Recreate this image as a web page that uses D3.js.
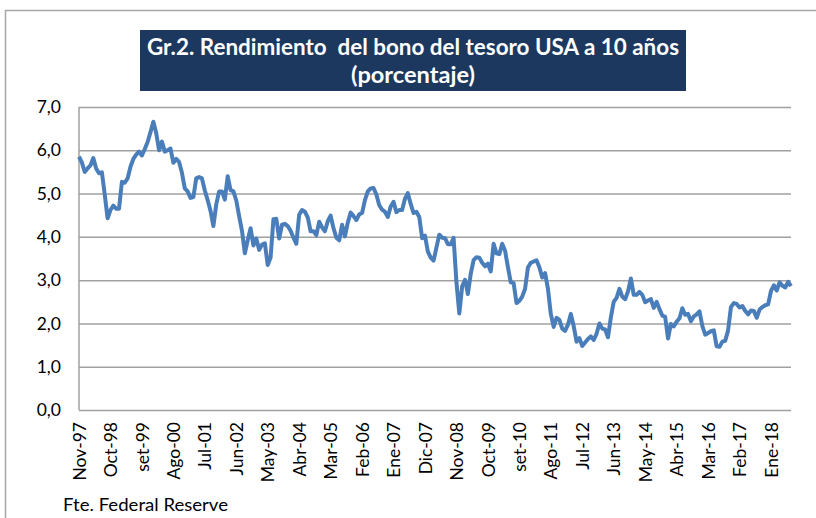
<!DOCTYPE html>
<html>
<head>
<meta charset="utf-8">
<script src="https://cdn.jsdelivr.net/npm/d3@7"></script>
<style>
  body { margin: 0; background: #fff; }
  #chart { width: 816px; height: 518px; }
  text { font-family: Lato, "Open Sans", sans-serif; }
</style>
</head>
<body>
<div id="chart"></div>
<script>
/** Data: month-end yields, Nov-97 .. Ago-18 */
const monthNames = ["Ene", "Feb", "Mar", "Abr", "May", "Jun", "Jul", "Ago", "set", "Oct", "Nov", "Dic"];
const startYear = 1997;
const startMonth = 10; // Nov

const yields = [
  5.85, 5.72,
  5.50, 5.58, 5.65, 5.82, 5.58, 5.47, 5.49, 4.98, 4.43, 4.62, 4.72, 4.65,
  4.65, 5.27, 5.25, 5.35, 5.62, 5.80, 5.90, 5.97, 5.88, 6.03, 6.19, 6.42,
  6.66, 6.40, 6.00, 6.20, 5.97, 6.00, 6.04, 5.71, 5.80, 5.73, 5.48, 5.12,
  5.05, 4.90, 4.92, 5.35, 5.38, 5.35, 5.07, 4.85, 4.60, 4.25, 4.75, 5.05,
  5.05, 4.86, 5.40, 5.08, 5.05, 4.84, 4.48, 4.14, 3.62, 3.92, 4.20, 3.80,
  3.96, 3.70, 3.82, 3.85, 3.35, 3.52, 4.41, 4.42, 3.96, 4.28, 4.30, 4.25,
  4.14, 3.98, 3.84, 4.51, 4.62, 4.58, 4.45, 4.13, 4.13, 4.04, 4.35, 4.22,
  4.13, 4.36, 4.49, 4.20, 3.98, 3.92, 4.28, 4.01, 4.33, 4.56, 4.48, 4.39,
  4.52, 4.55, 4.85, 5.05, 5.12, 5.13, 4.98, 4.73, 4.63, 4.58, 4.46, 4.70,
  4.81, 4.57, 4.62, 4.62, 4.88, 5.01, 4.76, 4.55, 4.58, 4.46, 3.97, 4.03,
  3.66, 3.52, 3.45, 3.75, 4.05, 3.98, 3.97, 3.83, 3.83, 3.98, 2.95, 2.23,
  2.86, 3.01, 2.68, 3.15, 3.46, 3.53, 3.52, 3.40, 3.32, 3.38, 3.20, 3.84,
  3.62, 3.60, 3.84, 3.68, 3.30, 2.95, 2.93, 2.47, 2.52, 2.62, 2.80, 3.29,
  3.40, 3.43, 3.46, 3.30, 3.06, 3.16, 2.80, 2.22, 1.92, 2.13, 2.08, 1.88,
  1.83, 1.97, 2.22, 1.94, 1.58, 1.66, 1.48, 1.56, 1.64, 1.70, 1.62, 1.76,
  2.00, 1.88, 1.86, 1.68, 2.14, 2.50, 2.59, 2.80, 2.62, 2.56, 2.74, 3.04,
  2.66, 2.66, 2.73, 2.66, 2.49, 2.53, 2.56, 2.36, 2.50, 2.33, 2.18, 2.15,
  1.65, 1.99, 1.93, 2.04, 2.12, 2.35, 2.20, 2.22, 2.05, 2.16, 2.21, 2.28,
  1.94, 1.74, 1.78, 1.82, 1.84, 1.47, 1.46, 1.58, 1.60, 1.84, 2.38, 2.47,
  2.45, 2.37, 2.40, 2.29, 2.21, 2.30, 2.29, 2.13, 2.32, 2.38, 2.42, 2.44,
  2.75, 2.88, 2.76, 2.95, 2.87, 2.83, 2.96, 2.86
];

const yTicks = [0, 1, 2, 3, 4, 5, 6, 7];
const labelStep = 11;

const titleLines = ["Gr.2. Rendimiento  del bono del tesoro USA a 10 años", "(porcentaje)"];
const sourceNote = "Fte. Federal Reserve";

/** Build categories */
const categories = yields.map((_, i) => {
  const m = (startMonth + i) % 12;
  const y = startYear + Math.floor((startMonth + i) / 12);
  return monthNames[m] + "-" + String(y).slice(2);
});
const data = yields.map((v, i) => ({ cat: categories[i], value: v }));

/** Graph configs */
const W = 816, H = 518;
const margin = { top: 107, right: 25, bottom: 108, left: 79 };
const width = W - margin.left - margin.right;
const height = H - margin.top - margin.bottom;

const svg = d3.select("#chart").append("svg").attr("width", W).attr("height", H);

// outer frame
svg.append("rect")
  .attr("x", 5.5).attr("y", 10.5)
  .attr("width", 900).attr("height", 600)
  .attr("fill", "none").attr("stroke", "#a6a6a6").attr("stroke-width", 1.5);

// title box
svg.append("rect")
  .attr("x", 140).attr("y", 30)
  .attr("width", 546).attr("height", 61)
  .attr("fill", "#1c385e");

svg.append("text")
  .attr("x", 413).attr("y", 55)
  .attr("text-anchor", "middle")
  .style("white-space", "pre")
  .attr("fill", "#fff").attr("font-weight", "bold").attr("font-size", 23)
  .attr("textLength", 532).attr("lengthAdjust", "spacingAndGlyphs")
  .text(titleLines[0]);
svg.append("text")
  .attr("x", 413).attr("y", 83)
  .attr("text-anchor", "middle")
  .attr("fill", "#fff").attr("font-weight", "bold").attr("font-size", 23)
  .attr("textLength", 124).attr("lengthAdjust", "spacingAndGlyphs")
  .text(titleLines[1]);

const g = svg.append("g")
  .attr("transform", `translate(${margin.left},${margin.top})`);

/** Scales */
const xScale = d3.scalePoint()
  .domain(categories)
  .range([0, width]);

const yScale = d3.scaleLinear()
  .domain([0, 7])
  .range([height, 0]);

const fmt = (d) => d3.format(".1f")(d).replace(".", ",");

/** Gridlines + y axis */
const yAxis = d3.axisLeft(yScale)
  .tickValues(yTicks)
  .tickSize(-width)
  .tickPadding(18)
  .tickFormat(fmt);

g.append("g")
  .call(yAxis)
  .call((s) => s.select(".domain").remove())
  .call((s) => s.selectAll(".tick line").attr("stroke", "#a0a0a0").attr("stroke-width", 1.5))
  .call((s) => s.selectAll(".tick text")
    .attr("font-size", 17.5).attr("fill", "#000")
    .style("font-family", "Lato, 'Open Sans', sans-serif"));

// left axis line
g.append("line")
  .attr("x1", 0).attr("x2", 0)
  .attr("y1", 0).attr("y2", height)
  .attr("stroke", "#a0a0a0").attr("stroke-width", 1.5);

/** x axis */
const xAxis = d3.axisBottom(xScale)
  .tickValues(categories.filter((_, i) => i % labelStep === 0))
  .tickSize(0)
  .tickPadding(0);

g.append("g")
  .attr("transform", `translate(0,${height})`)
  .call(xAxis)
  .call((s) => s.select(".domain").remove())
  .call((s) => s.selectAll(".tick text")
    .attr("transform", "rotate(-90)")
    .attr("text-anchor", "end")
    .attr("x", -12).attr("y", 0).attr("dy", "0.35em")
    .attr("font-size", 17.5).attr("fill", "#000")
    .style("font-family", "Lato, 'Open Sans', sans-serif"));

/** Line */
const line = d3.line()
  .x((d) => xScale(d.cat))
  .y((d) => yScale(d.value));

g.append("path")
  .datum(data)
  .attr("fill", "none")
  .attr("stroke", "#4a7ebb")
  .attr("stroke-width", 4)
  .attr("stroke-linejoin", "round")
  .attr("d", line);

/** Source */
svg.append("text")
  .attr("x", 63).attr("y", 511)
  .attr("font-size", 18).attr("fill", "#000")
  .attr("textLength", 165).attr("lengthAdjust", "spacingAndGlyphs")
  .text(sourceNote);
</script>
</body>
</html>
